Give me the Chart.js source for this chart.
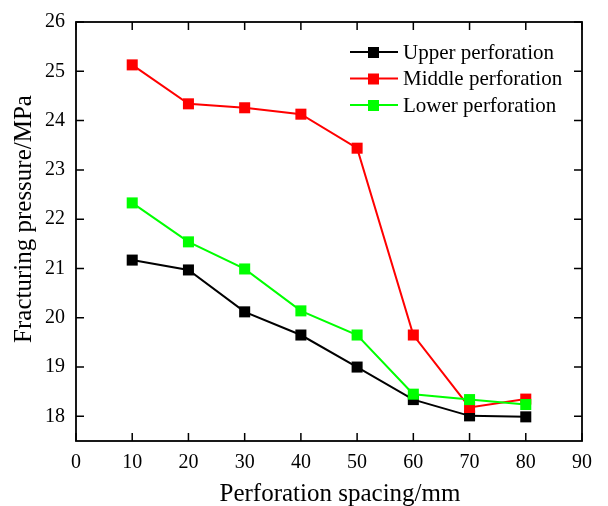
<!DOCTYPE html>
<html>
<head>
<meta charset="utf-8">
<script src="https://cdn.jsdelivr.net/npm/chart.js@4.4.1/dist/chart.umd.min.js"></script>
<style>
  html, body { margin: 0; padding: 0; background: #fff; }
  #box { width: 608px; height: 506px; position: relative; }
</style>
</head>
<body>
<div id="box"><canvas id="grafico"></canvas></div>
<script>
// dados
const espacamento = [10, 20, 30, 40, 50, 60, 70, 80];
const superior = [21.17, 20.97, 20.12, 19.65, 19.00, 18.34, 18.01, 17.99];
const meio = [25.13, 24.34, 24.26, 24.13, 23.44, 19.65, 18.18, 18.35];
const inferior = [22.33, 21.54, 20.99, 20.14, 19.65, 18.45, 18.34, 18.24];
const nomes = ['Upper perforation', 'Middle perforation', 'Lower perforation'];
const cores = ['#000000', '#ff0000', '#00ff00'];
const ticksX = [0, 10, 20, 30, 40, 50, 60, 70, 80, 90];
const ticksY = [18, 19, 20, 21, 22, 23, 24, 25, 26];
const tituloX = 'Perforation spacing/mm';
const tituloY = 'Fracturing pressure/MPa';

const fonte = 'Liberation Serif';

function pares(valores) {
    return espacamento.map((x, i) => ({ x: x, y: valores[i] }));
}

// moldura, marcas para dentro nos quatro lados, títulos e legenda
const moldura = {
    id: 'moldura',
    afterDraw(chart) {
        const ctx = chart.ctx;
        const a = chart.chartArea;
        const sx = chart.scales.x, sy = chart.scales.y;
        ctx.save();
        ctx.strokeStyle = '#000';
        ctx.lineWidth = 1.8;
        ctx.strokeRect(a.left, a.top, a.right - a.left, a.bottom - a.top);
        const t = 8;
        ctx.lineWidth = 1.5;
        ctx.beginPath();
        ticksX.forEach(v => {
            const px = sx.getPixelForValue(v);
            ctx.moveTo(px, a.bottom); ctx.lineTo(px, a.bottom - t);
            ctx.moveTo(px, a.top); ctx.lineTo(px, a.top + t);
        });
        ticksY.forEach(v => {
            const py = sy.getPixelForValue(v);
            ctx.moveTo(a.left, py); ctx.lineTo(a.left + t, py);
            ctx.moveTo(a.right, py); ctx.lineTo(a.right - t, py);
        });
        ctx.stroke();

        // títulos dos eixos
        ctx.fillStyle = '#000';
        ctx.font = '25px "' + fonte + '"';
        ctx.textAlign = 'center';
        ctx.textBaseline = 'middle';
        ctx.fillText(tituloX, 340, 494);
        ctx.save();
        ctx.translate(24, 219);
        ctx.rotate(-Math.PI / 2);
        ctx.fillText(tituloY, 0, 0);
        ctx.restore();

        // legenda: linha - quadrado - linha
        ctx.font = '21px "' + fonte + '"';
        ctx.textAlign = 'left';
        chart.data.datasets.forEach((ds, i) => {
            const y = 52 + i * 26.5;
            ctx.strokeStyle = ds.borderColor;
            ctx.lineWidth = 2;
            ctx.beginPath();
            ctx.moveTo(350, y); ctx.lineTo(398, y);
            ctx.stroke();
            ctx.fillStyle = ds.borderColor;
            ctx.fillRect(368, y - 5, 11, 11);
            ctx.fillStyle = '#000';
            ctx.fillText(ds.label, 403, y + 1);
        });
        ctx.restore();
    }
};

const series = [superior, meio, inferior];

new Chart(document.getElementById('grafico'), {
    type: 'line',
    plugins: [moldura],
    data: {
        datasets: series.map((s, i) => ({
            label: nomes[i],
            data: pares(s),
            borderColor: cores[i],
            backgroundColor: cores[i],
            borderWidth: 2,
            pointStyle: 'rect',
            pointRadius: 7.8,
            pointBorderWidth: 0,
            pointHoverRadius: 7.8,
            order: 2 - i
        }))
    },
    options: {
        responsive: true,
        maintainAspectRatio: false,
        animation: false,
        layout: { padding: { top: 22, right: 26, left: 0, bottom: 0 } },
        scales: {
            x: {
                type: 'linear',
                min: 0,
                max: 90,
                afterBuildTicks: axis => { axis.ticks = ticksX.map(v => ({ value: v })); },
                afterFit: axis => { axis.height = 65; },
                grid: { display: false },
                border: { display: false },
                ticks: { color: '#000', font: { family: fonte, size: 20 }, padding: 2, maxRotation: 0 },
                title: { display: false }
            },
            y: {
                min: 17.5,
                max: 26,
                afterBuildTicks: axis => { axis.ticks = ticksY.map(v => ({ value: v })); },
                afterFit: axis => { axis.width = 76; },
                grid: { display: false },
                border: { display: false },
                ticks: { color: '#000', font: { family: fonte, size: 20 }, padding: 3 },
                title: { display: false }
            }
        },
        plugins: {
            legend: { display: false },
            tooltip: { enabled: false }
        }
    }
});
</script>
</body>
</html>
